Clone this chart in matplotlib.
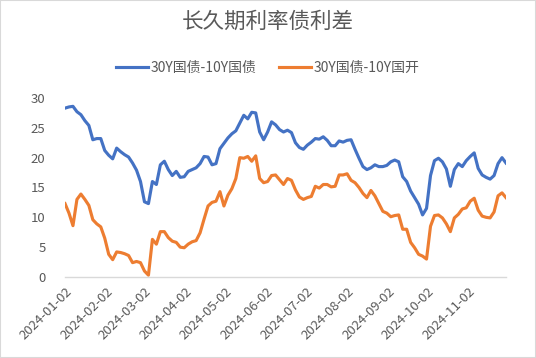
import pandas as pd
import matplotlib.pyplot as plt
import matplotlib.dates as mdates
from matplotlib.patches import Rectangle

plt.rcParams['font.family'] = ['Noto Sans CJK SC', 'DejaVu Sans']

TITLE = "长久期利率债利差"
SERIES_NAMES = ["30Y国债-10Y国债", "30Y国债-10Y国开"]
START_DATE = "2024-01-02"
STEP_DAYS = 3
TICK_LABELS = ["2024-01-02", "2024-02-02", "2024-03-02", "2024-04-02",
               "2024-05-02", "2024-06-02", "2024-07-02", "2024-08-02",
               "2024-09-02", "2024-10-02", "2024-11-02"]

# values, one every 3 calendar days
gov_spread = [
    28.3, 28.5, 28.6, 27.7, 27.2, 26.2, 25.4, 23.0, 23.2, 23.2,
    21.2, 20.4, 19.8, 21.6, 21.0, 20.5, 20.1, 19.1, 17.9, 16.0,
    12.6, 12.3, 16.0, 15.5, 18.8, 19.4, 18.0, 17.0, 17.7, 16.7,
    16.8, 17.7, 18.0, 18.3, 19.0, 20.2, 20.1, 18.8, 19.0, 21.5,
    22.4, 23.3, 24.0, 24.5, 25.8, 27.1, 26.5, 27.6, 27.5, 24.3,
    23.0, 24.3, 26.0, 25.5, 24.7, 24.3, 24.6, 24.2, 22.5, 21.7,
    21.4, 22.1, 22.6, 23.2, 23.1, 23.5, 22.9, 22.0, 22.0, 22.8,
    22.6, 22.9, 23.0, 21.4, 19.9, 18.5, 18.0, 18.3, 18.8, 18.5,
    18.5, 18.7, 19.3, 19.6, 19.3, 16.8, 16.0, 14.4, 13.3, 12.2,
    10.4, 11.5, 17.0, 19.5, 19.9, 19.3, 18.1, 15.2, 18.0, 19.0,
    18.5, 19.5, 20.2, 20.8, 18.2, 17.1, 16.7, 16.4, 17.0, 19.0,
    20.0, 19.1,
]
cdb_spread = [
    12.3, 10.7, 8.6, 13.0, 13.9, 13.0, 12.0, 9.6, 8.9, 8.4,
    6.5, 3.8, 2.9, 4.2, 4.1, 3.9, 3.6, 2.4, 2.6, 2.4,
    1.0, 0.3, 6.3, 5.5, 7.6, 7.6, 6.6, 6.0, 5.8, 5.0,
    4.9, 5.5, 5.9, 6.1, 7.4, 9.7, 11.9, 12.5, 12.7, 14.3,
    11.9, 13.7, 14.8, 16.5, 20.0, 19.9, 20.2, 19.4, 20.3, 16.5,
    15.8, 16.0, 17.0, 17.1, 16.3, 15.5, 16.5, 16.2, 14.6, 13.4,
    13.0, 13.3, 13.5, 15.2, 14.9, 15.5, 15.5, 15.1, 15.2, 17.1,
    17.1, 17.3, 16.2, 15.8, 15.0, 14.0, 13.3, 14.5, 13.6, 12.3,
    11.0, 10.7, 10.1, 10.3, 10.4, 8.0, 8.0, 5.8, 4.9, 3.8,
    3.5, 3.0, 8.5, 10.3, 10.4, 9.9, 8.9, 7.6, 9.9, 10.5,
    11.4, 11.6, 12.7, 13.2, 11.2, 10.2, 10.0, 9.9, 10.9, 13.6,
    14.1, 13.3,
]

dates = pd.date_range(START_DATE, periods=len(gov_spread), freq=f"{STEP_DAYS}D")

fig = plt.figure(figsize=(5.36, 3.58), dpi=100)
fig.patches.append(Rectangle((0, 0), 1, 1, transform=fig.transFigure,
                             fill=False, edgecolor="#D9D9D9", linewidth=1.5))

ax = fig.add_axes([0.1213, 0.2263, 0.8227, 0.5])
ax.plot(dates, gov_spread, color="#4472C4", linewidth=2.25, label=SERIES_NAMES[0])
ax.plot(dates, cdb_spread, color="#ED7D31", linewidth=2.25, label=SERIES_NAMES[1])

ax.set_ylim(0, 30)
ax.set_yticks(range(0, 31, 5))
ax.set_xlim(dates[0], dates[-1])
tick_dates = pd.to_datetime(TICK_LABELS)
ax.set_xticks(tick_dates)
ax.set_xticklabels(TICK_LABELS, rotation=45, ha="right", rotation_mode="anchor")

for side in ["top", "right", "left"]:
    ax.spines[side].set_visible(False)
ax.spines["bottom"].set_color("#D9D9D9")
ax.spines["bottom"].set_linewidth(1.0)
ax.tick_params(axis="both", length=0, labelsize=9.5, labelcolor="#595959")
ax.tick_params(axis="y", pad=14)
ax.tick_params(axis="x", pad=6)

fig.text(0.5, 0.938, TITLE, ha="center", va="center", fontsize=15.5, color="#595959")
fig.legend(loc="center", bbox_to_anchor=(0.5, 0.81), ncol=2, frameon=False,
           fontsize=10, handlelength=2.3, handletextpad=0.2, columnspacing=1.6,
           labelcolor="#595959")

fig.savefig("out.png", dpi=100)
